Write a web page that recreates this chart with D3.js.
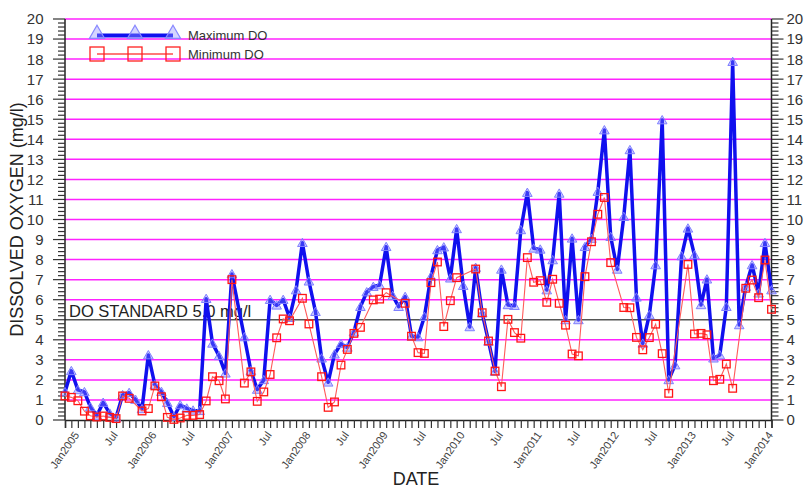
<!DOCTYPE html>
<html><head><meta charset="utf-8">
<script src="https://cdn.jsdelivr.net/npm/d3@7"></script>
<style>body{margin:0;background:#fff}svg{display:block;font-family:Arial,"Liberation Sans",sans-serif}</style>
</head><body><svg id="c" width="809" height="489"></svg>
<script>
// ---- data ----
const firstMonth = "2004-11";   // first sample month
const lastMonth = "2014-01";    // last sample month
const maxDO = [1.4,2.45,1.5,1.4,0.65,0.22,0.87,0.33,0.13,1.25,1.36,1.02,0.55,3.24,1.75,1.41,0.86,0.17,0.75,0.58,
  0.48,0.46,6.05,3.82,3.2,2.33,7.28,null,4.14,2.45,1.52,2.0,6.0,5.72,6.0,5.1,6.48,8.84,6.92,5.4,
  3.08,1.88,3.28,3.8,3.62,4.38,5.65,6.38,6.65,6.73,8.64,6.2,5.65,6.15,4.18,4.14,5.15,7.15,8.48,8.62,
  7.07,9.53,6.7,4.64,7.6,5.33,3.92,2.42,7.51,5.74,5.7,9.48,11.34,8.56,8.51,6.48,7.98,11.3,4.99,9.06,
  4.99,8.64,9.05,11.39,14.46,9.14,7.51,10.14,13.47,6.12,3.82,5.24,7.73,14.96,2.0,2.74,8.18,9.56,8.23,5.74,
  7.02,3.08,3.24,5.65,17.87,4.74,6.65,7.73,6.32,8.84,6.48];
const minDO = [1.2,1.13,0.96,0.44,0.21,0.15,0.2,0.13,0.07,1.2,1.08,null,0.45,0.57,1.7,1.16,0.13,0.03,0.1,0.23,
  0.23,0.27,0.95,2.16,1.96,1.05,7.0,null,1.84,2.4,0.93,1.4,2.27,4.1,5.04,4.95,null,6.07,4.79,null,
  2.16,0.63,0.9,2.74,3.52,4.32,4.62,null,5.99,6.03,6.35,null,null,5.82,4.18,3.36,3.32,6.85,7.88,4.66,
  5.95,7.1,null,null,7.53,5.35,3.94,2.44,1.66,5.02,4.36,4.08,8.1,6.87,6.95,5.87,7.02,5.82,4.73,3.29,
  3.2,7.15,8.89,10.26,11.1,7.85,null,5.61,5.6,4.12,3.5,4.11,4.78,3.31,1.33,null,null,7.76,4.29,4.32,
  4.25,1.96,2.03,2.79,1.58,null,6.57,6.98,6.1,7.98,5.52];
const yTicks = d3.range(0, 21);
const seriesNames = ["Maximum DO", "Minimum DO"];
const standardValue = 5;
const standardLabel = "DO STANDARD 5.0 mg/l";
const yTitle = "DISSOLVED OXYGEN (mg/l)";
const xTitle = "DATE";

// ---- setup ----
const parse = d3.timeParse("%Y-%m");
const months = d3.timeMonth.range(parse(firstMonth), d3.timeMonth.offset(parse(lastMonth), 1));
const L = 65, R = 771.5, T = 19, B = 420;
const x = d3.scaleTime().domain([months[0], months[months.length - 1]]).range([L, R]);
const y = d3.scaleLinear().domain([0, 20]).range([B, T]);
const svg = d3.select("#c");

// grid
svg.append("g").selectAll("line").data(yTicks.filter(v => v > 0 && v !== standardValue)).join("line")
  .attr("x1", L).attr("x2", R).attr("y1", d => y(d)).attr("y2", d => y(d))
  .attr("stroke", "#ff22ff").attr("stroke-width", 1.5);
svg.append("line").attr("x1", L).attr("x2", R).attr("y1", y(standardValue)).attr("y2", y(standardValue))
  .attr("stroke", "#555").attr("stroke-width", 1.5);
svg.append("text").attr("x", 69).attr("y", y(standardValue) - 3).attr("font-size", 16.5).attr("fill", "#222")
  .text(standardLabel);

// axes
const minor = d3.range(0, 20.001, 0.2);
function yAxis(side) {
  const g = svg.append("g");
  const ax = side === "left" ? L : R, s = side === "left" ? -1 : 1;
  g.append("line").attr("x1", ax).attr("x2", ax).attr("y1", T).attr("y2", B).attr("stroke", "#222").attr("stroke-width", 1.5);
  g.selectAll("line.mi").data(minor).join("line").attr("class", "mi")
    .attr("x1", ax).attr("x2", d => ax + s * (Math.abs(d - Math.round(d)) < 1e-6 ? 12 : 7))
    .attr("y1", d => y(d)).attr("y2", d => y(d)).attr("stroke", "#333").attr("stroke-width", 1.2);
  g.selectAll("text").data(yTicks).join("text")
    .attr("x", ax + s * (side === "left" ? 21.5 : 15)).attr("y", d => y(d)).attr("dy", "0.36em")
    .attr("text-anchor", side === "left" ? "end" : "start")
    .attr("font-size", 15).attr("fill", "#333").text(d => d);
}
yAxis("left"); yAxis("right");

const xg = svg.append("g").attr("transform", `translate(0,${B})`)
  .call(d3.axisBottom(x).ticks(d3.timeMonth.every(1)).tickSize(8).tickFormat(""));
xg.select(".domain").attr("stroke", "#222").attr("stroke-width", 1.5);
xg.selectAll(".tick line").attr("stroke", "#333").attr("stroke-width", 1.2);
const lab = months.filter(m => m.getMonth() === 0 || m.getMonth() === 6);
svg.append("g").selectAll("text").data(lab).join("text")
  .attr("transform", d => `translate(${x(d) + 2},${B + 15}) rotate(-55)`)
  .attr("text-anchor", "end").attr("font-size", 11).attr("fill", "#444")
  .text(d => d.getMonth() === 0 ? "Jan" + d.getFullYear() : "Jul");

// titles
svg.append("text").attr("transform", `translate(23,${(T + B) / 2}) rotate(-90)`)
  .attr("text-anchor", "middle").attr("font-size", 18).attr("fill", "#222").text(yTitle);
svg.append("text").attr("x", 416).attr("y", 485).attr("text-anchor", "middle")
  .attr("font-size", 18).attr("fill", "#222").text(xTitle);

// series
const maxPts = months.map((m, i) => ({ m, v: maxDO[i] })).filter(d => d.v != null);
const minPts = months.map((m, i) => ({ m, v: minDO[i] })).filter(d => d.v != null);
const line = d3.line().x(d => x(d.m)).y(d => y(d.v));
const tri = d3.symbol().type(d3.symbolTriangle);
svg.append("path").datum(maxPts).attr("d", line).attr("fill", "none")
  .attr("stroke", "#1010ee").attr("stroke-width", 3.5).attr("stroke-linejoin", "round");
svg.append("g").selectAll("path").data(maxPts).join("path")
  .attr("transform", d => `translate(${x(d.m)},${y(d.v) + 1})`).attr("d", tri.size(40))
  .attr("fill", "rgba(120,120,255,0.4)").attr("stroke", "#7f7fff").attr("stroke-width", 1);
svg.append("path").datum(minPts).attr("d", line).attr("fill", "none")
  .attr("stroke", "#ff5a5a").attr("stroke-width", 1.1);
svg.append("g").selectAll("rect").data(minPts).join("rect")
  .attr("x", d => x(d.m) - 3.8).attr("y", d => y(d.v) - 3.8).attr("width", 7.6).attr("height", 7.6)
  .attr("fill", "none").attr("stroke", "#ff1515").attr("stroke-width", 1.3);

// legend
const lg = svg.append("g");
const lx = [97, 135, 173];
lg.append("line").attr("x1", 97).attr("x2", 173).attr("y1", 35.5).attr("y2", 35.5).attr("stroke", "#1010ee").attr("stroke-width", 4);
lg.selectAll("path").data(lx).join("path").attr("transform", d => `translate(${d},34)`)
  .attr("d", d3.symbol().type(d3.symbolTriangle).size(100))
  .attr("fill", "rgba(150,150,255,0.4)").attr("stroke", "#8888ff").attr("stroke-width", 1.2);
lg.append("line").attr("x1", 97).attr("x2", 173).attr("y1", 54).attr("y2", 54).attr("stroke", "#ff4a4a").attr("stroke-width", 1.3);
lg.selectAll("rect").data(lx).join("rect").attr("x", d => d - 7).attr("y", 47).attr("width", 14).attr("height", 14)
  .attr("fill", "none").attr("stroke", "#ff2020").attr("stroke-width", 1.3);
lg.selectAll("text").data(seriesNames).join("text").attr("x", 188).attr("y", (d, i) => i ? 58.5 : 40)
  .attr("font-size", 13).attr("fill", "#333").text(d => d);
</script></body></html>
